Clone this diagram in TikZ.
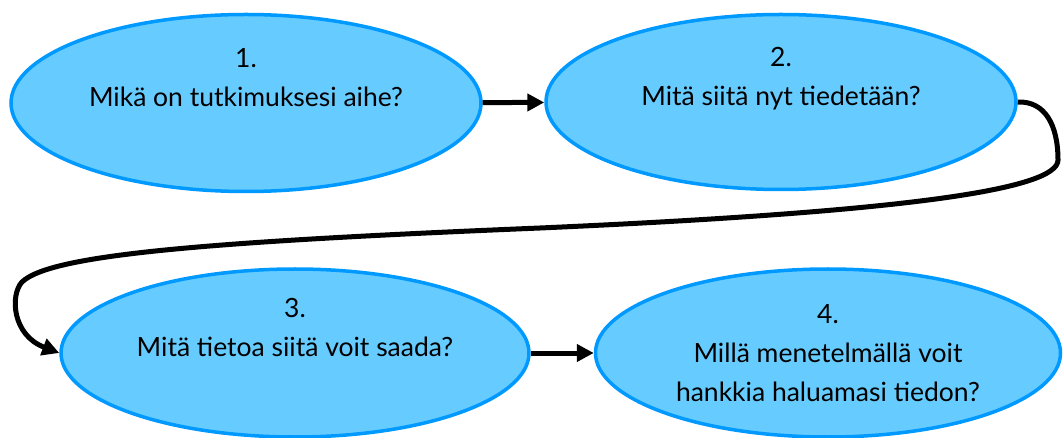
\documentclass[tikz,border=0pt]{standalone}
\usepackage{fontspec}
\setmainfont{Lato}
\usetikzlibrary{shapes.geometric,arrows.meta}
\definecolor{ellfill}{RGB}{102,204,255}
\definecolor{elldraw}{RGB}{0,153,255}
\begin{document}
\begin{tikzpicture}[x=1pt,y=-1pt,
  bubble/.style={ellipse,draw=elldraw,fill=ellfill,line width=3.5pt,inner sep=0pt,
    align=center,font=\fontsize{26.5}{39}\selectfont},
  flow/.style={line width=5pt,-{Triangle[length=17pt,width=17pt]}}]
\useasboundingbox (0,0) rectangle (1063,438);
\node[bubble,minimum width=470pt,minimum height=177pt] (n1) at (246,103) {1.\\Mikä on tutkimuksesi aihe?\\\strut};
\node[bubble,minimum width=470pt,minimum height=175pt] (n2) at (781,102) {2.\\Mitä siitä nyt tiedetään?\\\strut};
\node[bubble,minimum width=468pt,minimum height=168pt] (n3) at (295,353) {3.\\Mitä tietoa siitä voit saada?\\\strut};
\node[bubble,minimum width=465pt,minimum height=168pt] (n4) at (828,353) {4.\\Millä menetelmällä voit\\hankkia haluamasi tiedon?};
\draw[flow] (n1) -- (n2);
\draw[flow] (n3) -- (n4);
\draw[flow] (n2.east) .. controls (1045,101) and (1058,125) .. (1058,160)
  .. controls (1058,190) and (900,212) .. (540,228)
  .. controls (200,242) and (50,255) .. (22,282)
  .. controls (10,295) and (12,335) .. (n3.west);
\end{tikzpicture}
\end{document}
